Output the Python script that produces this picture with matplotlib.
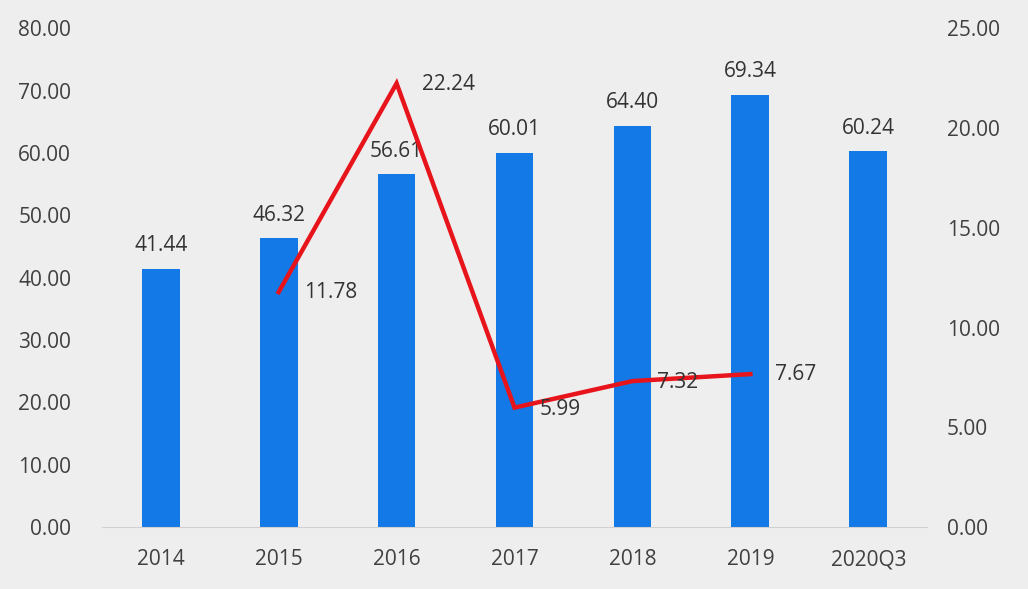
import matplotlib
matplotlib.use("Agg")
import matplotlib.pyplot as plt
import numpy as np

categories = ["2014", "2015", "2016", "2017", "2018", "2019", "2020Q3"]
bar_values = [41.44, 46.32, 56.61, 60.01, 64.40, 69.34, 60.24]
line_categories = ["2015", "2016", "2017", "2018", "2019"]
line_values = [11.78, 22.24, 5.99, 7.32, 7.67]

plt.rcParams['font.family'] = ['Open Sans', 'DejaVu Sans']
bg = "#eeeeef"
fig = plt.figure(figsize=(10.28, 5.89), dpi=100, facecolor=bg)
ax = fig.add_axes([0.099, 0.105, 0.803, 0.847])
ax.set_facecolor(bg)
x = np.arange(len(categories))
ax.bar(x, bar_values, width=0.32, color="#1379e6", zorder=2)
ax.set_xlim(-0.5, 6.5)
ax.set_ylim(0, 80)
ax.set_yticks(np.arange(0, 81, 10))
ax.set_yticklabels([f"{v:.2f}" for v in np.arange(0, 81, 10)])
ax.set_xticks(x)
ax.set_xticklabels(categories)
for s in ["top", "right", "left"]:
    ax.spines[s].set_visible(False)
ax.spines["bottom"].set_color("#d0d0d0")
ax.tick_params(axis="both", length=0, labelsize=15, colors="#404040")
ax.tick_params(axis="x", pad=16)
ax.tick_params(axis="y", pad=22)
for xi, v in zip(x, bar_values):
    ax.annotate(f"{v:.2f}", (xi, v), xytext=(0, 9), textcoords="offset points",
                ha="center", va="bottom", fontsize=15, color="#333333", zorder=3)

ax2 = ax.twinx()
ax2.set_ylim(0, 25)
ax2.set_yticks(np.arange(0, 26, 5))
ax2.set_yticklabels([f"{v:.2f}" for v in np.arange(0, 26, 5)])
for s in ["top", "right", "left", "bottom"]:
    ax2.spines[s].set_visible(False)
ax2.tick_params(axis="y", length=0, labelsize=15, colors="#404040", pad=14)
lx = [categories.index(c) for c in line_categories]
ax2.plot(lx, line_values, color="#e8141b", linewidth=3.2, solid_joinstyle="miter", zorder=4)
offsets = [(18, 0), (18, -1), (18, -1), (18, -1), (18, 0)]
for xi, v, off in zip(lx, line_values, offsets):
    ax2.annotate(f"{v:.2f}", (xi, v), xytext=off, textcoords="offset points",
                 ha="left", va="center", fontsize=15, color="#333333", zorder=5)

fig.savefig("out.png", dpi=100, facecolor=bg)
